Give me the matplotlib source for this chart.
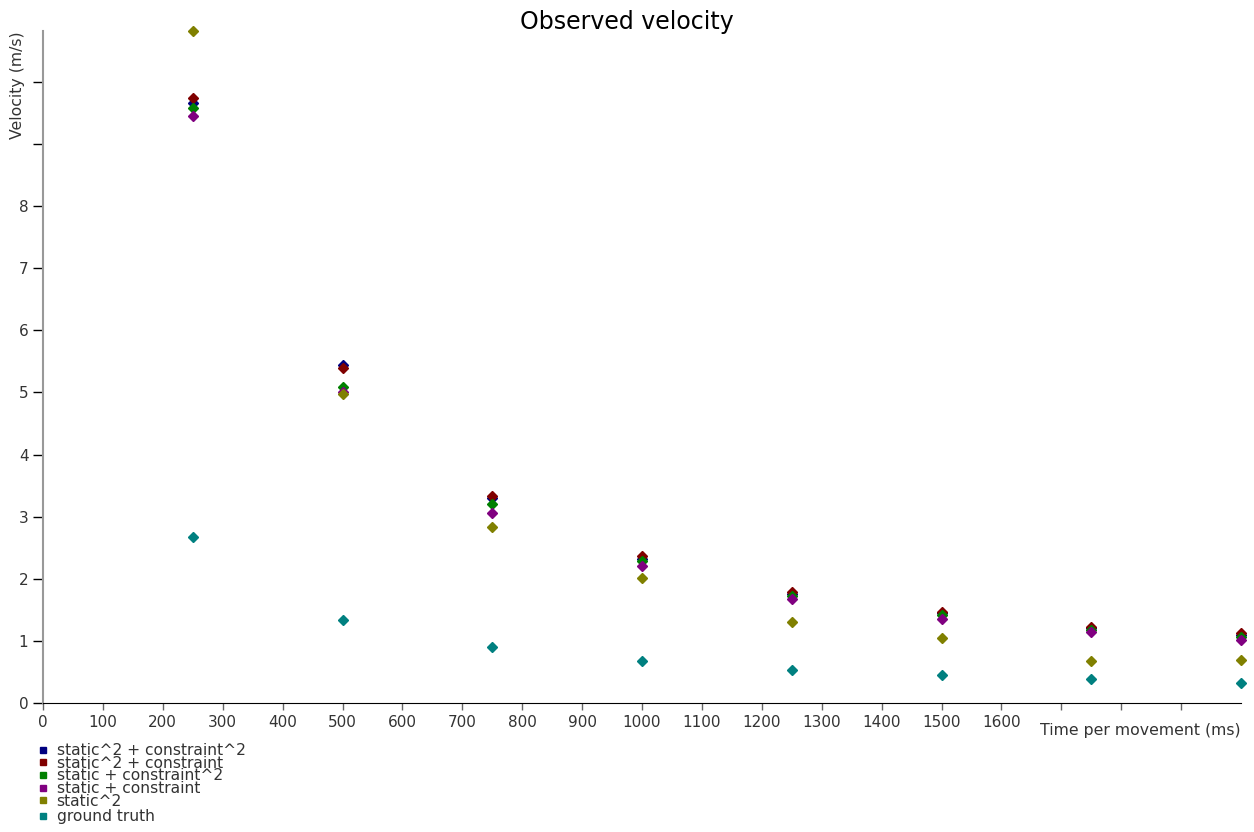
import matplotlib.pyplot as plt

# Données
temps = [250, 500, 750, 1000, 1250, 1500, 1750, 2000]

static2_constraint2 = [9.66, 5.44, 3.30, 2.32, 1.76, 1.45, 1.21, 1.10]
static2_constraint = [9.74, 5.39, 3.34, 2.36, 1.78, 1.47, 1.23, 1.13]
static_constraint2 = [9.58, 5.09, 3.20, 2.28, 1.73, 1.42, 1.18, 1.07]
static_constraint = [9.45, 5.01, 3.06, 2.21, 1.67, 1.36, 1.15, 1.01]
static2 = [10.82, 4.98, 2.83, 2.01, 1.31, 1.05, 0.68, 0.70]
ground_truth = [2.67, 1.34, 0.90, 0.68, 0.53, 0.45, 0.39, 0.33]

series = [
    ("static^2 + constraint^2", static2_constraint2, "#000080"),
    ("static^2 + constraint", static2_constraint, "#800000"),
    ("static + constraint^2", static_constraint2, "#008000"),
    ("static + constraint", static_constraint, "#800080"),
    ("static^2", static2, "#808000"),
    ("ground truth", ground_truth, "#008080"),
]

fig = plt.figure(figsize=(12.54, 8.32), dpi=100)
ax = fig.add_axes([43 / 1254, 1 - 703 / 832, 1198 / 1254, 672 / 832])

for nom, valeurs, couleur in series:
    ax.plot(temps, valeurs, linestyle='none', marker='D', markersize=5,
            color=couleur, clip_on=False)

ax.set_xlim(0, 2000)
ax.set_ylim(0, 10.82)

# Graduations
ax.set_xticks(range(0, 2000, 100))
ax.set_xticklabels([str(v) if v <= 1600 else "" for v in range(0, 2000, 100)])
ax.set_yticks(range(0, 11))
ax.set_yticklabels([str(v) if v <= 8 else "" for v in range(0, 11)])
ax.tick_params(axis='both', direction='out', width=1,
               labelsize=11, labelcolor='#333333')
ax.tick_params(axis='x', length=5, colors='#666666', labelcolor='#333333')
ax.tick_params(axis='y', length=7, colors='black', labelcolor='#333333')

for cote in ['top', 'right']:
    ax.spines[cote].set_visible(False)
ax.spines['left'].set_color('#999999')
ax.spines['left'].set_linewidth(1.5)
ax.spines['bottom'].set_color('black')

# Titre et libellés
fig.text(0.5, 1 - 22 / 832, "Observed velocity", ha='center', va='center',
         fontsize=17)
fig.text(18 / 1254, 1 - 31 / 832, "Velocity (m/s)", rotation=90,
         ha='center', va='top', fontsize=11.3, color='#333333')
fig.text(1241 / 1254, 1 - 730 / 832, "Time per movement (ms)", ha='right',
         va='center', fontsize=11.3, color='#333333')

# Légende (la dernière entrée est un peu décalée vers le bas)
handles = [plt.Line2D([], [], linestyle='none', marker='s', markersize=5,
                      color=c) for _, _, c in series]
labels = [n for n, _, _ in series]
style = dict(loc='upper left', frameon=False, fontsize=11.2,
             labelspacing=-0.15, handlelength=0.6, handletextpad=0.6,
             borderpad=0, borderaxespad=0, labelcolor='#333333')
leg1 = fig.legend(handles[:5], labels[:5],
                  bbox_to_anchor=(38 / 1254, 1 - 743 / 832), **style)
fig.legend(handles[5:], labels[5:],
           bbox_to_anchor=(38 / 1254, 1 - 809 / 832), **style)

plt.savefig("out.png", dpi=100)
